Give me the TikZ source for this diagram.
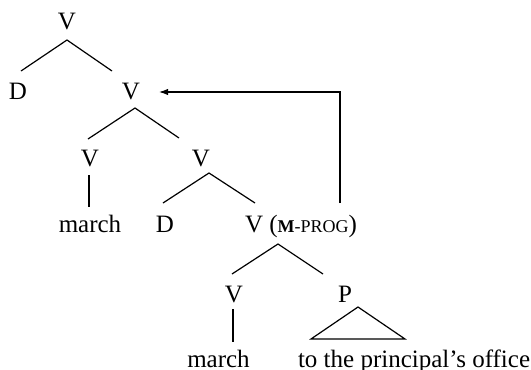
\documentclass[tikz,border=0pt]{standalone}
\usepackage{fontspec}
\setmainfont{Liberation Serif}
\usetikzlibrary{calc,arrows.meta}
\begin{document}
\begin{tikzpicture}[x=0.5pt,y=-0.5pt,
  lab/.style={inner sep=0pt,outer sep=0pt,anchor=base,font=\fontsize{12.5}{14}\selectfont},
  branch/.style={line width=0.6pt},
  mv/.style={line width=0.6pt,-{Latex[length=4.5pt,width=3.2pt]}}]
\useasboundingbox (0,0) rectangle (531,370);
% nodes
\node[lab] (vtop) at (67,29.5) {V};
\node[lab] (d1) at (18,99) {D};
\node[lab] (v2) at (131,99) {V};
\node[lab] (v3) at (90,166) {V};
\node[lab] (v4) at (201,166.5) {V};
\node[lab] (march1) at (90,232) {march};
\node[lab] (d2) at (165,232) {D};
\node[lab,anchor=base west] (vm) at (245,232) {V ({\fontsize{9}{10}\selectfont\textbf{M}-PROG})};
\node[lab] (v5) at (234,302) {V};
\node[lab] (p) at (345,302) {P};
\node[lab] (march2) at (218.5,367) {march};
\node[lab,anchor=base west] (pp) at (298,367) {to the principal’s office};
% branches
\draw[branch] ($(vtop.base)+(-46,41.5)$) -- ($(vtop.base)+(0,10.5)$) -- ++(45,31);
\draw[branch] ($(v2.base)+(-43,40)$) -- ($(v2.base)+(4,9)$) -- ++(44,30);
\draw[branch] ($(v3.base)+(-1,9)$) -- ++(0,32);
\draw[branch] ($(v4.base)+(-38,36.5)$) -- ($(v4.base)+(8,6.5)$) -- ++(46,30);
\draw[branch] ($(vm.base west)+(-13,42)$) -- ($(vm.base west)+(33,12)$) -- ++(45,30);
\draw[branch] ($(v5.base)+(-1,7)$) -- ++(0,33);
\draw[branch] ($(p.base)+(13,5)$) -- ++(-47,32) -- ++(94,0) -- cycle;
% movement arrow
\draw[mv] ($(vm.base west)+(95,-29)$) |- ($(v2.base)+(28,-7)$);
\end{tikzpicture}
\end{document}
